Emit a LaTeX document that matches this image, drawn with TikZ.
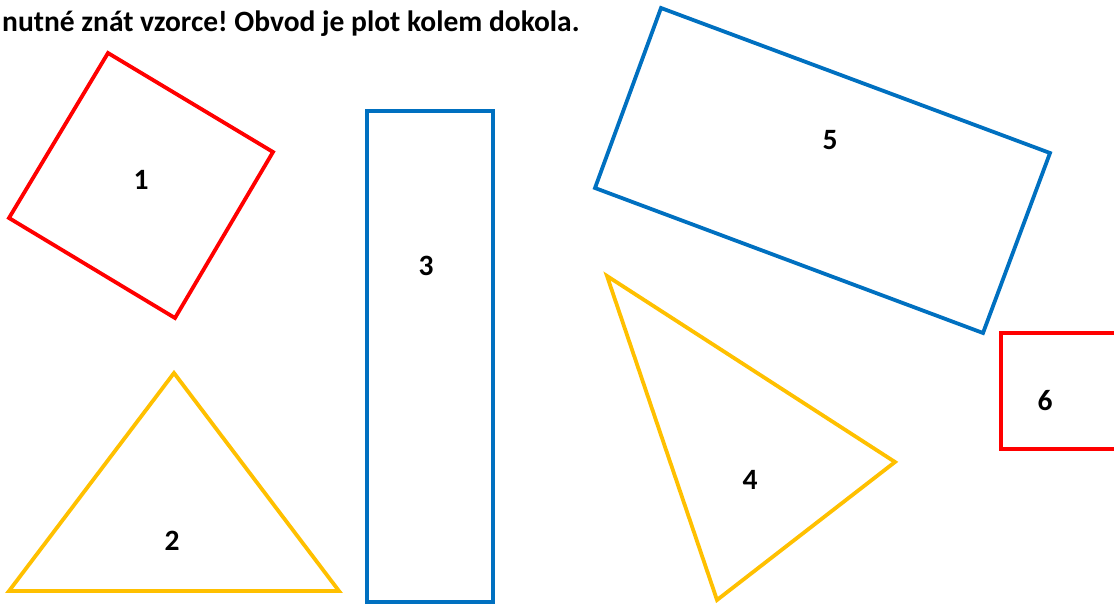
\documentclass[tikz,border=0pt]{standalone}
\usepackage{fontspec}
\setmainfont{Carlito}
\frenchspacing
\definecolor{shapered}{RGB}{255, 0, 0}
\definecolor{shapeblue}{RGB}{0, 112, 192}
\definecolor{shapegold}{RGB}{255, 192, 0}
\usetikzlibrary{positioning}

\begin{document}
\begin{tikzpicture}[x=1pt, y=-1pt,
  outline/.style={line width=3.8pt},
  num/.style={font=\fontsize{29.5}{34}\selectfont\bfseries, inner sep=0pt}]
  \useasboundingbox (0, 0) rectangle (1114, 604);
  \clip (0, 0) rectangle (1114, 604);

  % Title
  \node[num, anchor=base west] (title) at (2, 32) {nutné znát vzorce! Obvod je plot kolem dokola.};

  % Square 1
  \draw[outline, shapered] (108, 53) -- (273, 152) -- (175, 318) -- (9, 218) -- cycle;
  \node[num] (n1) at (141, 180) {1};

  % Triangle 2
  \draw[outline, shapegold] (174, 373) -- (339, 591) -- (9, 591) -- cycle;
  \node[num] (n2) at (172, 541) {2};

  % Rectangle 3
  \draw[outline, shapeblue] (367, 111) rectangle (493, 602);
  \node[num] (n3) at (426, 266) {3};

  % Triangle 4
  \draw[outline, shapegold] (607, 276) -- (895, 462) -- (717, 600) -- cycle;
  \node[num] (n4) at (750, 480) {4};

  % Rectangle 5
  \draw[outline, shapeblue] (661, 8) -- (1050, 153) -- (983, 333) -- (595, 188) -- cycle;
  \node[num] (n5) at (830, 140) {5};

  % Rectangle 6
  \draw[outline, shapered] (1001, 333) rectangle (1130, 449);
  \node[num] (n6) at (1045, 401) {6};
\end{tikzpicture}
\end{document}
